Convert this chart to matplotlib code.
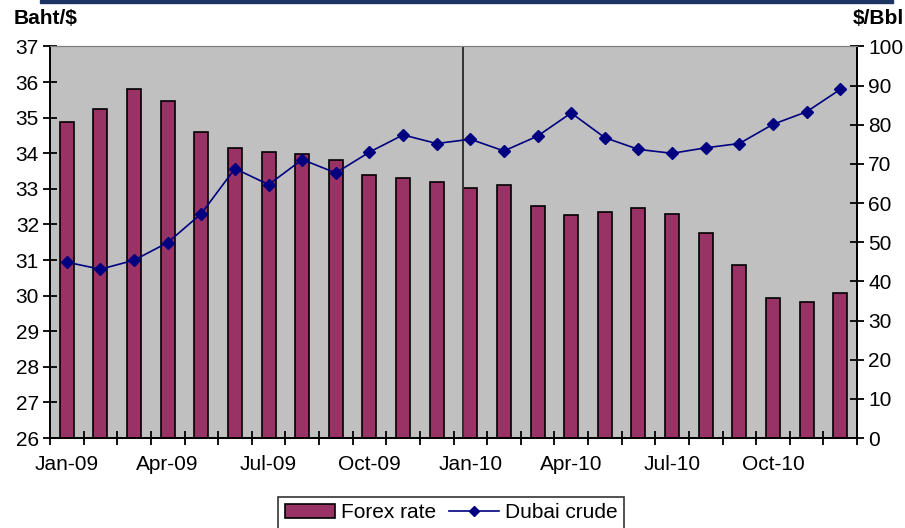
import matplotlib.pyplot as plt
from matplotlib.lines import Line2D
from matplotlib.patches import Rectangle
import numpy as np

plt.rcParams['font.family'] = ['Liberation Sans', 'DejaVu Sans']

months = ["Jan-09", "Feb-09", "Mar-09", "Apr-09", "May-09", "Jun-09",
          "Jul-09", "Aug-09", "Sep-09", "Oct-09", "Nov-09", "Dec-09",
          "Jan-10", "Feb-10", "Mar-10", "Apr-10", "May-10", "Jun-10",
          "Jul-10", "Aug-10", "Sep-10", "Oct-10", "Nov-10", "Dec-10"]
forex = [34.87, 35.25, 35.79, 35.46, 34.59, 34.14, 34.02, 33.98, 33.81, 33.40, 33.29, 33.20,
         33.03, 33.12, 32.51, 32.26, 32.34, 32.45, 32.29, 31.76, 30.86, 29.94, 29.82, 30.08]
crude = [44.9, 43.1, 45.4, 49.9, 57.3, 68.8, 64.7, 71.1, 67.7, 73.0, 77.4, 75.2,
         76.3, 73.3, 77.1, 83.0, 76.7, 73.7, 72.7, 74.1, 75.2, 80.1, 83.3, 89.0]
label_months = months[::3]

x = np.arange(len(months))
bar_w = 0.42
fs = 15

fig = plt.figure(figsize=(9.05, 5.28), dpi=100)
ax = fig.add_axes([50 / 905, 1 - 438 / 528, 807 / 905, 391.6 / 528])
ax.set_facecolor("#c0c0c0")

ax.bar(x, [v - 26 for v in forex], bottom=26, width=bar_w, color="#993366",
       edgecolor="black", linewidth=1.2, label="Forex rate", zorder=2)
ax.set_ylim(26, 37)
ax.set_xlim(-0.5, len(months) - 0.5)
ax.set_yticks(range(26, 38))

# month labels every quarter, tick marks on category boundaries
ax.set_xticks(x[::3])
ax.set_xticklabels(label_months)
ax.set_xticks(np.arange(-0.5, len(months)), minor=True)
ax.tick_params(axis="x", which="major", length=0, pad=12, labelsize=fs)
ax.tick_params(axis="x", which="minor", direction="inout", length=10, width=1.3)
ax.tick_params(axis="y", direction="inout", length=10, width=1.3, labelsize=fs, pad=3)

# marker line at the start of 2010
jan10 = months.index("Jan-10")
ax.axvline(jan10 - bar_w / 2, color="#333333", linewidth=1.4, zorder=3)

ax2 = ax.twinx()
ax2.plot(x, crude, color="#000080", marker="D", markersize=6, linewidth=1.2,
         label="Dubai crude", zorder=4)
ax2.set_ylim(0, 100)
ax2.set_yticks(range(0, 101, 10))
ax2.tick_params(axis="y", direction="inout", length=10, width=1.3, labelsize=fs, pad=3)

for a in (ax, ax2):
    a.spines["top"].set_color("#808080")
    a.spines["left"].set_linewidth(1.3)
    a.spines["right"].set_linewidth(1.3)
    a.spines["bottom"].set_linewidth(1.3)

fig.text(14 / 905, 1 - 18 / 528, "Baht/$", fontsize=fs, fontweight="bold", va="center")
fig.text(1 - 1 / 905, 1 - 18 / 528, "$/Bbl", fontsize=fs, fontweight="bold",
         va="center", ha="right")

# header rule
fig.add_artist(Rectangle((40 / 905, 1 - 3 / 528), 853 / 905, 3 / 528,
                         transform=fig.transFigure, color="#1b3461"))

handles = [Rectangle((0, 0), 1, 1, facecolor="#993366", edgecolor="black", linewidth=1.2),
           Line2D([], [], color="#000080", marker="D", markersize=5, linewidth=1.2)]
leg = fig.legend(handles, ["Forex rate", "Dubai crude"], loc="upper center",
                 bbox_to_anchor=(451 / 905, 1 - 497 / 528), ncol=2, fontsize=fs,
                 frameon=True, fancybox=False, edgecolor="black", handlelength=2.4,
                 handletextpad=0.3, columnspacing=0.6, borderpad=0.3, borderaxespad=0)
leg.get_frame().set_linewidth(1.2)

fig.savefig("out.png", dpi=100)
